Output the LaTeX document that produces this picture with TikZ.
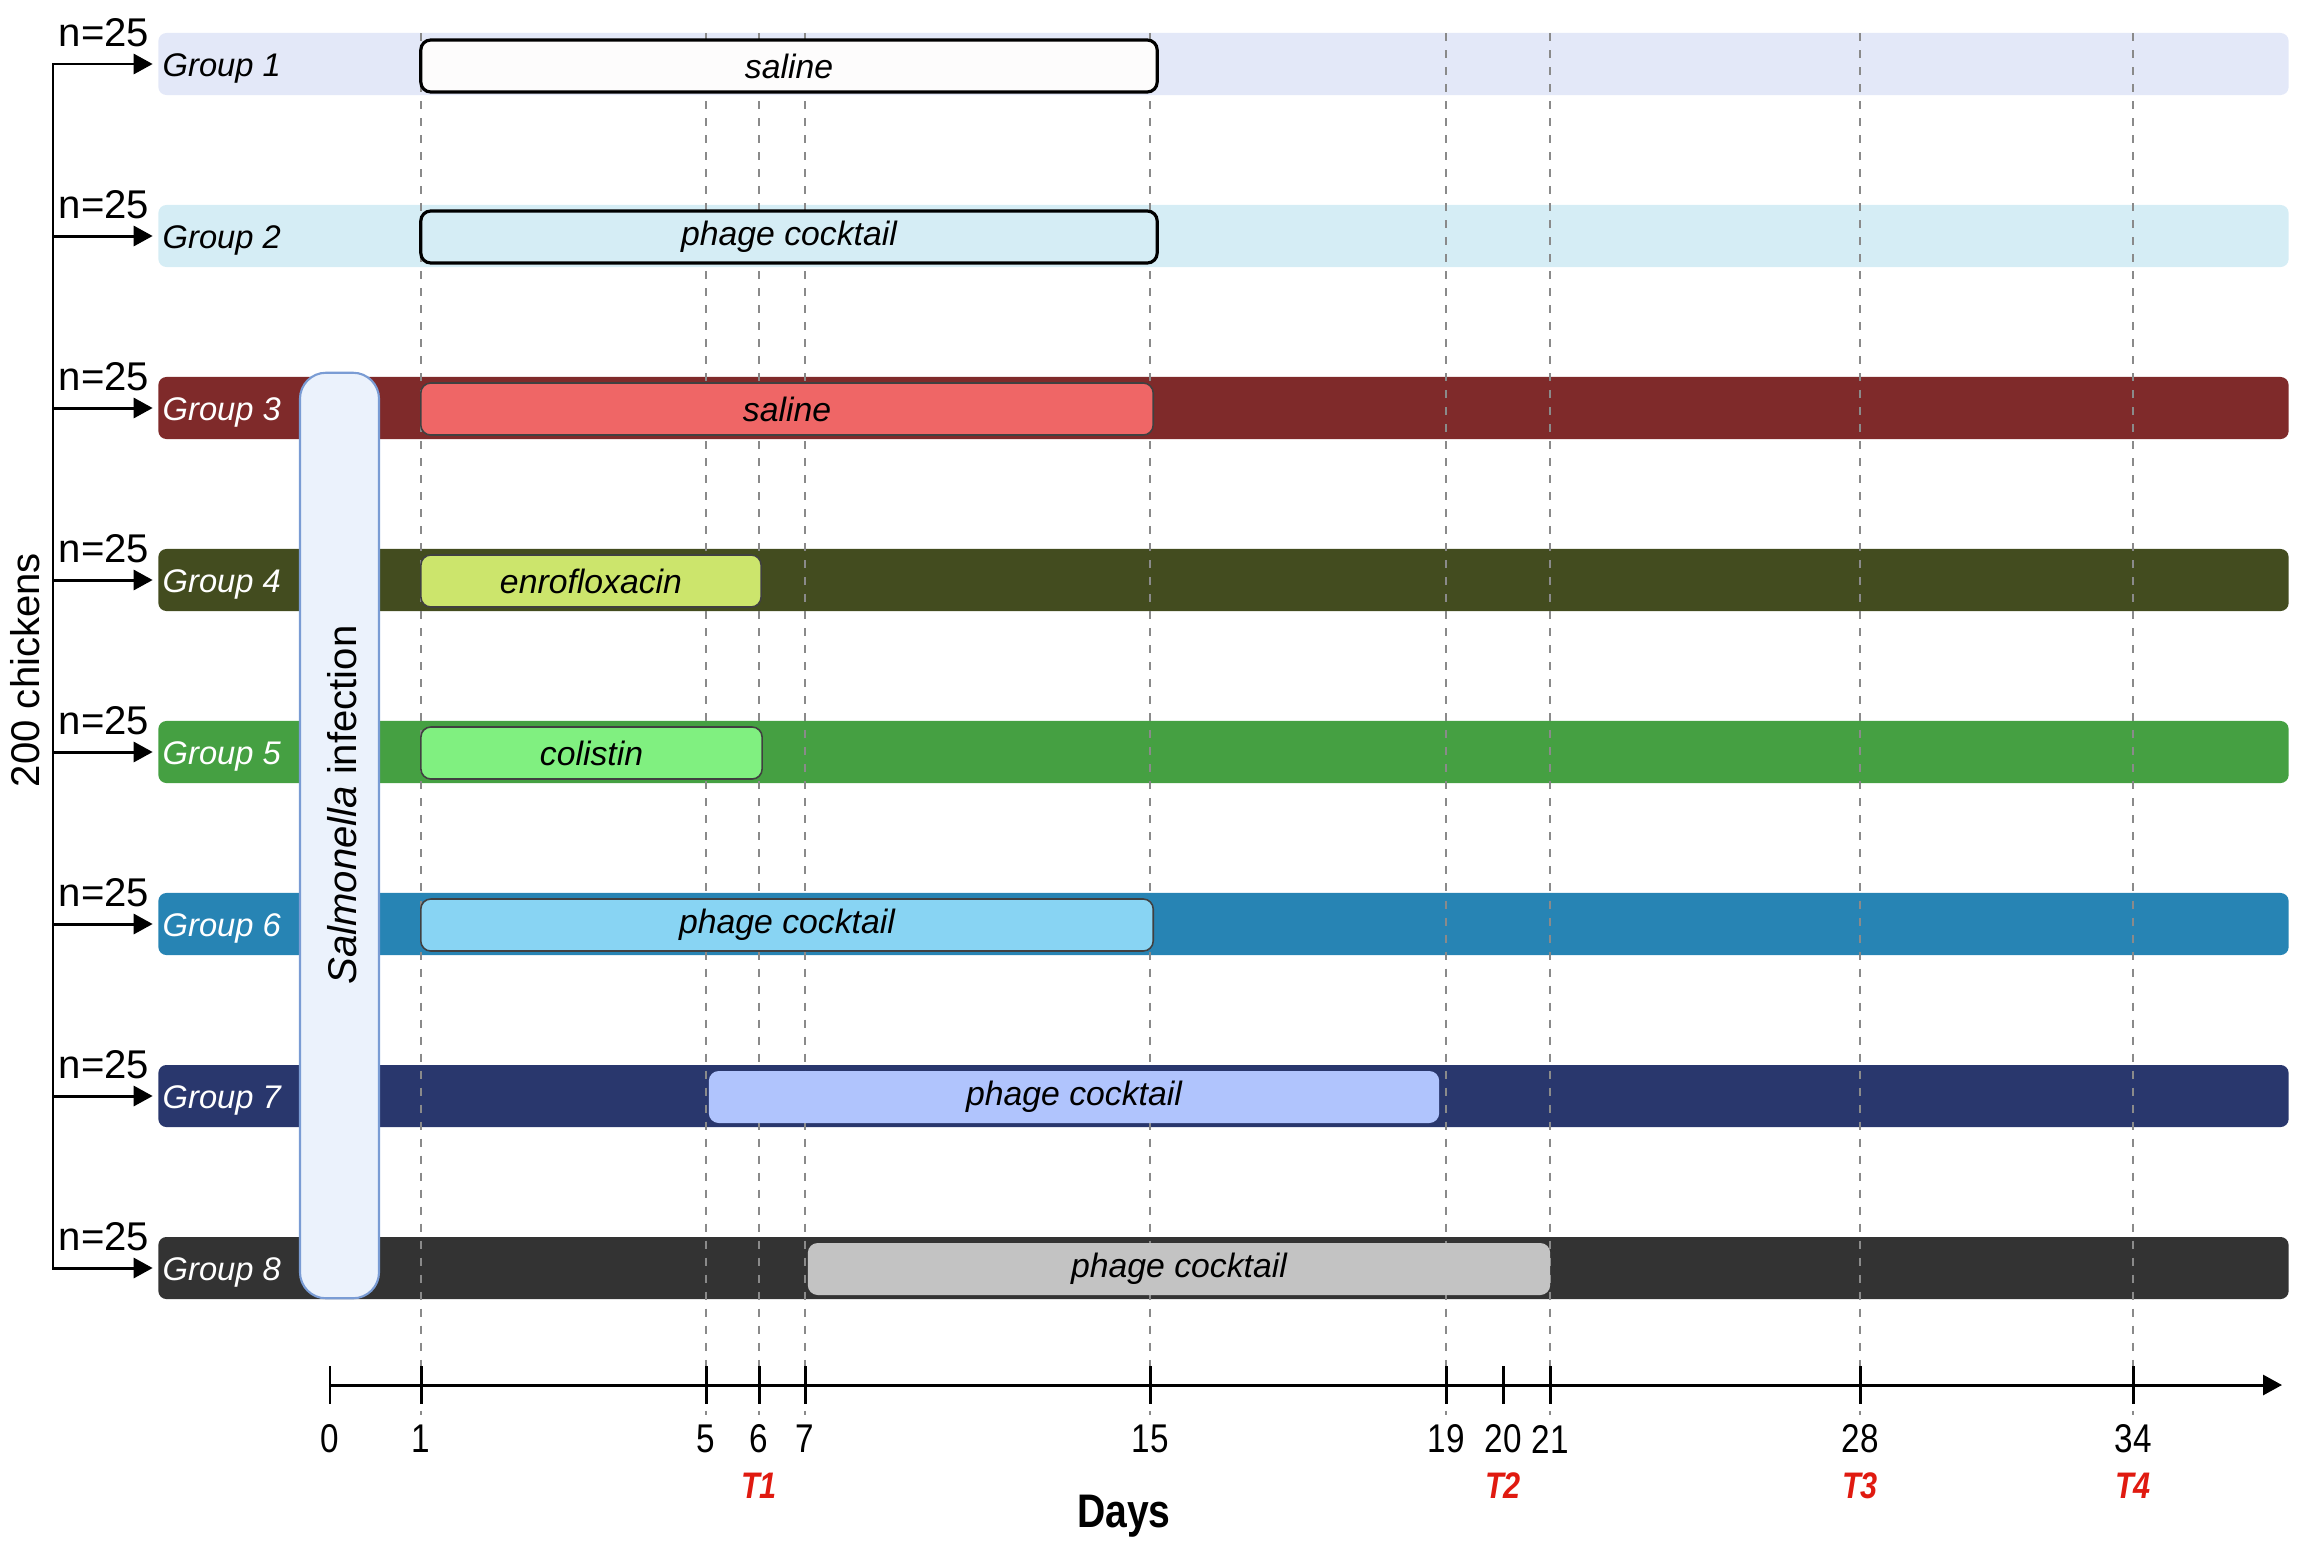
\documentclass[tikz,border=0pt]{standalone}
\usepackage{fontspec}
\setmainfont{Liberation Sans}
\newfontfamily\narrowfont[FakeStretch=0.83]{Liberation Sans}
\usetikzlibrary{arrows.meta}
\definecolor{gAbar}{HTML}{E3E8F8}\definecolor{gAbox}{HTML}{FDFCFC}
\definecolor{gBbar}{HTML}{D5EDF5}\definecolor{gBbox}{HTML}{D5EDF5}
\definecolor{gCbar}{HTML}{7F2A2A}\definecolor{gCbox}{HTML}{EF6666}
\definecolor{gDbar}{HTML}{434C1F}\definecolor{gDbox}{HTML}{CCE56C}
\definecolor{gEbar}{HTML}{45A042}\definecolor{gEbox}{HTML}{80F080}
\definecolor{gFbar}{HTML}{2784B4}\definecolor{gFbox}{HTML}{88D4F3}
\definecolor{gGbar}{HTML}{29376D}\definecolor{gGbox}{HTML}{B0C4FD}
\definecolor{gHbar}{HTML}{333333}\definecolor{gHbox}{HTML}{C3C3C3}
\definecolor{infill}{HTML}{EBF2FC}\definecolor{indraw}{HTML}{7A9CD4}
\definecolor{tred}{HTML}{E01A10}
\definecolor{dashgray}{HTML}{8A8A8A}
\begin{document}
\begin{tikzpicture}[x=0.01cm,y=-0.01cm,
  grpbar/.style={rectangle, rounded corners=0.08cm, minimum width=21.29cm, minimum height=0.62cm, inner sep=0pt, draw=none},
  grplabel/.style={anchor=west, inner sep=0pt, font=\fontsize{9.3}{10}\selectfont\itshape},
  nlabel/.style={inner sep=0pt, font=\fontsize{11.4}{12}\selectfont},
  treat/.style={rectangle, rounded corners=0.1cm, minimum height=0.52cm, inner sep=0pt, font=\fontsize{9.6}{10}\selectfont\itshape},
  treatthick/.style={treat, draw=black, line width=0.9pt},
  treatthin/.style={treat, draw=black!75, line width=0.45pt},
  treatnone/.style={treat, draw=none},
  trunk/.style={draw=black, line width=0.85pt},
  grparrow/.style={draw=black, line width=0.85pt, -{Triangle[length=0.19cm,width=0.2cm]}, shorten >=0.05cm},
  dayline/.style={draw=dashgray, line width=0.55pt, dash pattern=on 0.08cm off 0.09cm},
  axisline/.style={draw=black, line width=0.85pt},
  ticklbl/.style={inner sep=0pt, font=\narrowfont\fontsize{11.4}{12}\selectfont},
  tlbl/.style={inner sep=0pt, text=tred, font=\narrowfont\fontsize{10.5}{11}\selectfont\bfseries\itshape},
]
\useasboundingbox (0,0) rectangle (2303,1548);

% group bars
\node[grpbar, fill=gAbar] (g1) at (1223.5,64) {};
\node[grpbar, fill=gBbar] (g2) at (1223.5,236) {};
\node[grpbar, fill=gCbar] (g3) at (1223.5,408) {};
\node[grpbar, fill=gDbar] (g4) at (1223.5,580) {};
\node[grpbar, fill=gEbar] (g5) at (1223.5,752) {};
\node[grpbar, fill=gFbar] (g6) at (1223.5,924) {};
\node[grpbar, fill=gGbar] (g7) at (1223.5,1096) {};
\node[grpbar, fill=gHbar] (g8) at (1223.5,1268) {};

% day coordinates on the axis
\coordinate (d0) at (330,1385);
\coordinate (d1) at (421,1385);
\coordinate (d5) at (706,1385);
\coordinate (d6) at (759,1385);
\coordinate (d7) at (805,1385);
\coordinate (d15) at (1150,1385);
\coordinate (d19) at (1446,1385);
\coordinate (d20) at (1503,1385);
\coordinate (d21) at (1550,1385);
\coordinate (d28) at (1860,1385);
\coordinate (d34) at (2133,1385);
\coordinate (dend) at (2282,1385);
\coordinate (topl) at (0,33);
\coordinate (botl) at (0,1415);

% dashed day lines
\foreach \d in {d1,d5,d6,d7,d15,d19,d21,d28,d34}{
  \draw[dayline] (topl -| \d) -- (botl -| \d);
}

% treatment boxes
\node[treatthick, fill=gAbox, minimum width=7.36cm] (b1) at (789,66) {saline};
\node[treatthick, fill=gBbox, minimum width=7.36cm] (b2) at (789,237) {phage cocktail};
\node[treatthin, fill=gCbox, minimum width=7.32cm] (b3) at (787,409) {saline};
\node[treatthin, fill=gDbox, minimum width=3.40cm] (b4) at (591,581) {enrofloxacin};
\node[treatthin, fill=gEbox, minimum width=3.41cm] (b5) at (591.5,753) {colistin};
\node[treatthin, fill=gFbox, minimum width=7.32cm] (b6) at (787,925) {phage cocktail};
\node[treatnone, fill=gGbox, minimum width=7.30cm] (b7) at (1074,1097) {phage cocktail};
\node[treatnone, fill=gHbox, minimum width=7.42cm] (b8) at (1179,1269) {phage cocktail};

% group labels
\node[grplabel, text=black] (l1) at (162,68) {Group 1};
\node[grplabel, text=black] (l2) at (162,240) {Group 2};
\node[grplabel, text=white] (l3) at (162,412) {Group 3};
\node[grplabel, text=white] (l4) at (162,584) {Group 4};
\node[grplabel, text=white] (l5) at (162,756) {Group 5};
\node[grplabel, text=white] (l6) at (162,928) {Group 6};
\node[grplabel, text=white] (l7) at (162,1100) {Group 7};
\node[grplabel, text=white] (l8) at (162,1272) {Group 8};

% infection box
\node[rectangle, rounded corners=0.26cm, minimum width=0.79cm, minimum height=9.25cm,
      fill=infill, draw=indraw, line width=0.6pt, inner sep=0pt] (inf) at (339.5,835.5) {};
\node[rotate=90, inner sep=0pt, font=\fontsize{11.4}{12}\selectfont] (inftext) at (342,805) {\textit{Salmonella} infection};

% trunk and arrows
\coordinate (a1) at (53,64);
\coordinate (a2) at (53,236);
\coordinate (a3) at (53,408);
\coordinate (a4) at (53,580);
\coordinate (a5) at (53,752);
\coordinate (a6) at (53,924);
\coordinate (a7) at (53,1096);
\coordinate (a8) at (53,1268);
\draw[trunk, line cap=rect] (a1) -- (a8);
\foreach \i in {1,...,8}{
  \draw[grparrow] (a\i) -- (g\i.west);
}
\node[rotate=90, inner sep=0pt, font=\fontsize{11.4}{12}\selectfont] (chick) at (25,670) {200 chickens};
\node[nlabel] (n1) at (104,33) {n=25};
\node[nlabel] (n2) at (104,205) {n=25};
\node[nlabel] (n3) at (104,377) {n=25};
\node[nlabel] (n4) at (104,549) {n=25};
\node[nlabel] (n5) at (104,721) {n=25};
\node[nlabel] (n6) at (104,893) {n=25};
\node[nlabel] (n7) at (104,1065) {n=25};
\node[nlabel] (n8) at (104,1237) {n=25};

% time axis
\draw[axisline, -{Triangle[length=0.19cm,width=0.2cm]}] (d0) -- (dend);
\foreach \d in {d0,d1,d5,d6,d7,d15,d19,d20,d21,d28,d34}{
  \draw[axisline] ([yshift=0.19cm]\d) -- ([yshift=-0.19cm]\d);
}
\node[ticklbl] (t0) at (330,1439) {0};
\node[ticklbl] (t1) at (421,1439) {1};
\node[ticklbl] (t5) at (706,1439) {5};
\node[ticklbl] (t6) at (759,1439) {6};
\node[ticklbl] (t7) at (805,1439) {7};
\node[ticklbl] (t15) at (1150,1439) {15};
\node[ticklbl] (t19) at (1446,1439) {19};
\node[ticklbl] (t20) at (1503,1439) {20};
\node[ticklbl] (t21) at (1550,1439) {21};
\node[ticklbl] (t28) at (1860,1439) {28};
\node[ticklbl] (t34) at (2133,1439) {34};
\node[tlbl] (T1) at (759,1486) {T1};
\node[tlbl] (T2) at (1503,1486) {T2};
\node[tlbl] (T3) at (1860,1486) {T3};
\node[tlbl] (T4) at (2133,1486) {T4};
\node[inner sep=0pt, font=\narrowfont\fontsize{13.4}{14}\selectfont\bfseries] (days) at (1124,1516) {Days};
\end{tikzpicture}
\end{document}
